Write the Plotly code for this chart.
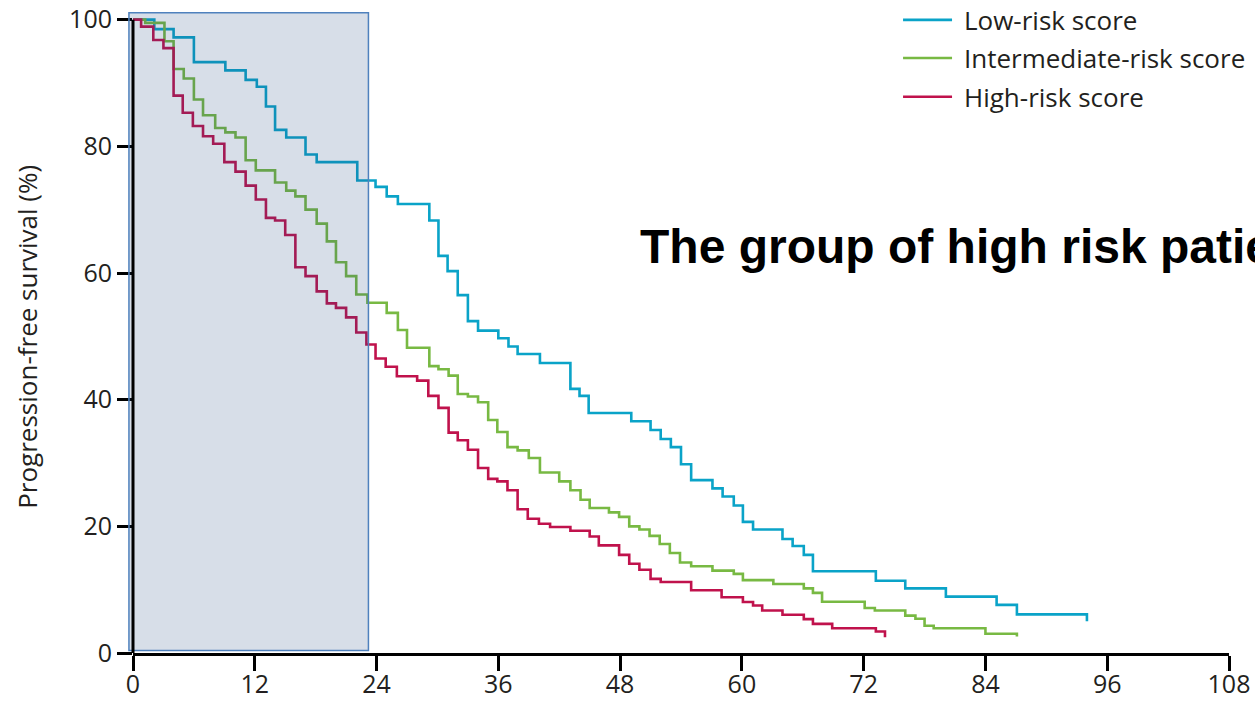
import plotly.graph_objects as go

# Kaplan-Meier step curves: month at which each level starts, and PFS (%)
months_low = [0, 2.1, 4.0, 6.0, 9.1, 11.1, 12.2, 13.1, 14.0, 15.1, 17.0, 18.1, 22.1, 23.9,
              25.0, 26.1, 29.2, 30.1, 31.0, 32.0, 33.0, 34.0, 36.0, 37.0, 37.9, 40.1, 43.1,
              44.0, 44.9, 49.1, 51.0, 52.0, 53.0, 54.0, 55.0, 57.1, 58.1, 59.2, 60.1, 61.1,
              64.0, 65.0, 66.1, 67.0, 73.2, 76.1, 80.1, 85.1, 87.1, 94.0]
pfs_low = [100, 98.5, 97.2, 93.3, 92.0, 90.5, 89.4, 86.3, 82.6, 81.4, 78.7, 77.5, 74.6, 73.6,
           72.1, 70.9, 68.3, 62.7, 60.3, 56.5, 52.4, 50.9, 49.7, 48.4, 47.2, 45.8, 41.7,
           40.6, 37.9, 36.6, 35.2, 33.8, 32.5, 29.8, 27.3, 26.0, 24.7, 23.3, 20.7, 19.5,
           18.0, 16.9, 15.5, 12.9, 11.4, 10.2, 8.9, 7.6, 6.1, 5.0]

months_int = [0, 1.2, 3.1, 4.0, 5.0, 6.0, 6.9, 8.1, 9.1, 10.1, 11.1, 12.1, 14.0, 15.1, 16.0,
              17.0, 18.1, 19.1, 20.0, 21.0, 22.0, 23.1, 25.0, 26.1, 27.0, 29.2, 30.1, 31.1,
              32.0, 33.0, 34.0, 35.0, 35.9, 36.9, 37.9, 39.0, 40.1, 42.0, 43.1, 44.1, 45.0,
              46.9, 47.9, 48.9, 49.9, 50.9, 51.9, 52.9, 53.9, 55.0, 57.1, 59.2, 60.1, 63.1,
              66.1, 67.0, 67.9, 72.1, 73.1, 76.1, 77.1, 78.0, 78.9, 84.0, 87.1]
pfs_int = [100, 99.5, 96.6, 92.2, 90.7, 87.4, 84.9, 82.9, 82.2, 81.4, 77.8, 76.2, 74.3, 73.0,
           72.1, 70.0, 67.8, 65.0, 61.7, 59.5, 56.6, 55.3, 53.7, 51.0, 48.2, 45.3, 44.8,
           43.8, 40.9, 40.5, 39.6, 36.8, 34.9, 32.5, 32.0, 30.8, 28.5, 27.1, 25.7, 24.2,
           22.9, 22.2, 21.5, 20.0, 19.5, 18.5, 17.2, 15.8, 14.3, 13.7, 13.0, 12.5, 11.5,
           10.9, 10.2, 9.5, 8.1, 7.1, 6.7, 5.9, 5.4, 4.3, 3.9, 3.05, 2.6]

months_high = [0, 0.8, 2.0, 3.0, 4.0, 4.9, 5.9, 6.9, 7.9, 9.0, 10.1, 11.1, 12.1, 13.1, 14.0,
               15.0, 16.0, 17.0, 18.1, 19.1, 20.0, 21.0, 22.0, 23.0, 23.9, 24.9, 26.0, 28.0,
               29.1, 30.1, 31.1, 32.0, 33.0, 34.0, 35.0, 35.9, 36.9, 37.9, 38.9, 40.0, 41.1,
               43.1, 45.0, 45.9, 47.9, 48.9, 49.9, 51.0, 52.0, 55.0, 58.0, 60.1, 61.1, 62.0,
               64.0, 66.1, 67.0, 68.9, 73.2, 74.1]
pfs_high = [100, 98.9, 96.8, 95.5, 88.0, 85.3, 83.2, 81.6, 80.4, 77.5, 76.0, 73.8, 71.6, 68.7,
            68.3, 66.0, 60.9, 59.5, 57.1, 55.2, 54.5, 53.0, 50.6, 48.7, 46.5, 45.2, 43.7,
            43.0, 40.6, 38.7, 34.8, 33.6, 32.1, 29.2, 27.5, 27.1, 25.7, 22.7, 21.2, 20.4,
            19.9, 19.3, 18.4, 17.0, 15.5, 14.1, 13.15, 11.7, 11.2, 9.9, 8.8, 8.05, 7.5, 6.7,
            6.05, 5.35, 4.6, 3.9, 3.4, 2.5]

series_names = ["Low-risk score", "Intermediate-risk score", "High-risk score"]
series_colors = ["#0aa3c8", "#78b943", "#c0124c"]

x_ticks = [0, 12, 24, 36, 48, 60, 72, 84, 96, 108]
y_ticks = [0, 20, 40, 60, 80, 100]

# highlighted window on the time axis (months) and PFS span it covers
window_months = (-0.4, 23.2)
window_pfs = (0.4, 101.1)

X_MAX = 108
Y_MAX = 102
FONT = "Open Sans"
INK = "#231f20"

fig = go.Figure()
for name, t, v, color in zip(series_names,
                             [months_low, months_int, months_high],
                             [pfs_low, pfs_int, pfs_high],
                             series_colors):
    fig.add_trace(go.Scatter(
        x=t, y=v, mode="lines", name=name,
        line=dict(shape="hv", color=color, width=2.6),
        showlegend=False, hoverinfo="skip",
    ))

shapes = [
    # shaded window
    dict(type="rect", xref="paper", yref="paper", layer="above",
         x0=window_months[0] / X_MAX, x1=window_months[1] / X_MAX,
         y0=window_pfs[0] / Y_MAX, y1=window_pfs[1] / Y_MAX,
         fillcolor="rgba(31,73,125,0.18)", line=dict(color="#4f81bd", width=1.5)),
    # y axis spine from 0 to 100 %
    dict(type="line", xref="paper", yref="paper", layer="above",
         x0=0, x1=0, y0=0, y1=100 / Y_MAX, line=dict(color="black", width=3)),
]

annotations = []
# hand-placed legend, top right
legend_rows = [0.980, 0.921, 0.861]
for name, color, ly in zip(series_names, series_colors, legend_rows):
    shapes.append(dict(type="line", xref="paper", yref="paper",
                       x0=0.7026, x1=0.7473, y0=ly, y1=ly,
                       line=dict(color=color, width=2.6)))
    annotations.append(dict(xref="paper", yref="paper", x=0.7564, y=ly,
                            xanchor="left", yanchor="middle", showarrow=False,
                            text=name, font=dict(family=FONT, size=26, color=INK)))

annotations.append(dict(xref="paper", yref="paper", x=-0.097, y=0.489,
                        text="Progression-free survival (%)", textangle=-90,
                        showarrow=False, xanchor="center", yanchor="middle",
                        font=dict(family=FONT, size=26, color=INK)))

annotations.append(dict(xref="paper", yref="paper", x=0.4608, y=0.6285,
                        xanchor="left", yanchor="middle", showarrow=False,
                        text="<b>The group of high risk patients</b>",
                        font=dict(family="Liberation Sans", size=48, color="black")))

fig.update_layout(
    width=1255, height=701,
    margin=dict(l=133, r=26, t=7, b=48, autoexpand=False),
    paper_bgcolor="white", plot_bgcolor="white",
    shapes=shapes, annotations=annotations,
    xaxis=dict(range=[0, X_MAX], tickvals=x_ticks, ticktext=[str(v) for v in x_ticks],
               automargin=False,
               showgrid=False, zeroline=False, showline=True, linecolor="black",
               linewidth=3, ticks="outside", ticklen=15, tickwidth=3, tickcolor="black",
               ticklabelstandoff=-8,
               tickfont=dict(family=FONT, size=25, color=INK)),
    yaxis=dict(range=[0, Y_MAX], tickvals=y_ticks, ticktext=[str(v) for v in y_ticks],
               automargin=False,
               showgrid=False, zeroline=False, showline=False,
               ticks="outside", ticklen=15, tickwidth=3, tickcolor="black",
               tickfont=dict(family=FONT, size=25, color=INK)),
)

fig.write_html("out.html")
